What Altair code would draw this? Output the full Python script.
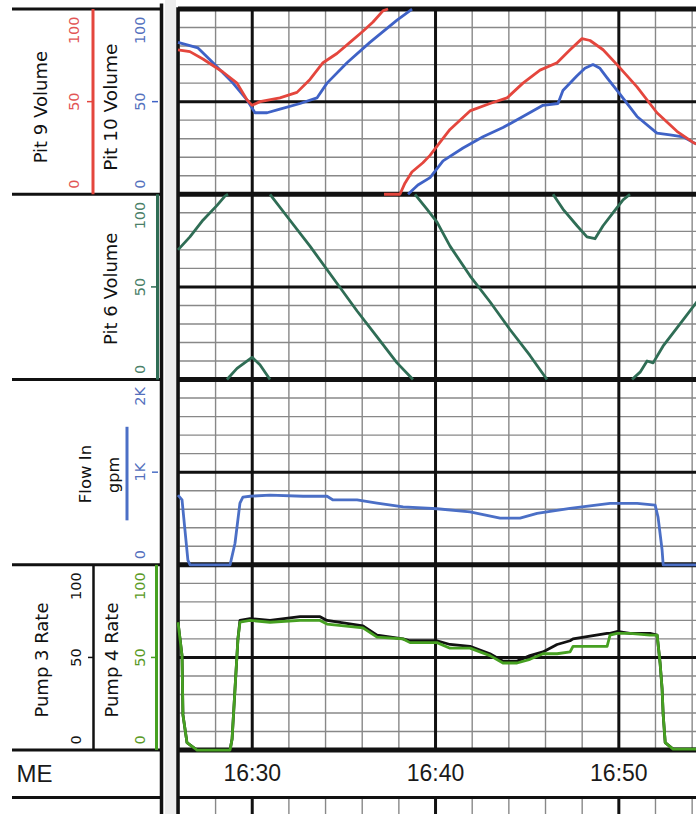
import altair as alt
import pandas as pd

# ---------------- values (time = minutes after 16:00) ----------------
# Panel 1: Pit 9 Volume (red) and Pit 10 Volume (blue), 0-100, two visible passes each
pit9_t1 = [25.95, 26.60, 27.31, 28.40, 29.17, 29.71, 29.99, 30.42, 31.51, 32.44, 33.15, 33.86, 34.62, 35.33, 36.04, 36.59, 37.13, 37.41]
pit9_v1 = [78, 77, 73, 66, 60, 51, 48, 50, 52, 55, 62, 71, 76, 82, 88, 93, 99, 100]
pit9_t2 = [37.19, 38.06, 38.33, 38.71, 39.31, 39.70, 40.24, 40.79, 41.88, 42.97, 43.90, 44.77, 45.70, 46.63, 47.34, 47.99, 48.43, 49.14, 49.90, 50.99, 52.08, 53.17, 54.05, 54.26]
pit9_v2 = [0, 0, 6, 12, 17, 21, 28, 35, 45, 49, 52, 60, 67, 71, 78, 84, 83, 78, 70, 58, 44, 34, 28, 27]
pit10_t1 = [25.95, 27.04, 27.86, 28.95, 29.71, 30.15, 30.81, 31.51, 32.61, 33.53, 34.08, 35.17, 36.42, 37.90, 38.72]
pit10_v1 = [82, 79, 71, 60, 51, 44, 44, 46, 49, 52, 60, 71, 82, 94, 100]
pit10_t2 = [38.50, 39.04, 39.70, 40.41, 41.50, 42.59, 43.68, 44.77, 45.86, 46.68, 46.95, 47.72, 48.15, 48.59, 48.97, 49.35, 50.06, 50.99, 52.08, 52.79, 53.50, 54.05, 54.26]
pit10_v2 = [0, 5, 9, 18, 25, 31, 36, 42, 48, 49, 56, 64, 68, 70, 68, 63, 54, 42, 33, 32, 31, 28, 27]

# Panel 2: Pit 6 Volume (wraps around 0-100)
pit6_t = [
    [25.95, 26.60, 27.31, 28.08, 28.51, 28.68],
    [28.62, 29.17, 29.99, 30.42, 30.97],
    [30.97, 31.90, 33.15, 34.62, 35.72, 36.81, 37.90, 38.77],
    [38.88, 39.53, 40.08, 40.79, 41.88, 42.97, 44.06, 45.15, 46.08],
    [46.41, 46.95, 47.72, 48.26, 48.70, 49.14, 49.68, 50.23, 50.61],
    [50.72, 51.16, 51.54, 51.87, 52.41, 53.34, 54.26],
]
pit6_v = [
    [70, 77, 86, 94, 99, 100],
    [0, 6, 12, 8, 0],
    [100, 88, 72, 52, 37, 23, 9, 0],
    [100, 92, 85, 72, 56, 42, 27, 13, 0],
    [100, 92, 83, 77, 76, 83, 90, 97, 100],
    [0, 4, 10, 9, 18, 30, 42],
]

# Panel 3: Flow In, gpm (0-2K)
flow_t = [25.95, 26.17, 26.33, 26.49, 26.60, 28.79, 29.06, 29.33, 29.49, 29.88, 30.97, 32.77, 34.08, 34.41,
          35.72, 36.81, 38.23, 40.08, 41.88, 43.52, 44.61, 45.54, 47.34, 49.52, 51.00, 51.98, 52.14, 52.36, 52.42, 54.26]
flow_v = [753, 700, 375, 50, 0, 0, 233, 667, 730, 740, 753, 740, 740, 700,
          700, 667, 625, 605, 572, 505, 505, 555, 610, 663, 663, 645, 515, 160, 0, 0]

# Panel 4: Pump 3 Rate (black) and Pump 4 Rate (green), 0-100
pump_t = [25.95, 26.17, 26.22, 26.44, 26.99, 28.79, 28.90, 29.06, 29.22, 29.33, 29.88, 30.97, 32.61, 33.70,
          34.08, 36.04, 36.81, 38.23, 38.61, 40.08, 40.79, 41.88, 42.97, 43.68, 44.45, 45.15, 45.86, 46.63,
          47.34, 47.50, 49.36, 49.52, 49.90, 50.61, 51.70, 52.09, 52.25, 52.36, 52.42, 52.53, 52.96, 54.26]
pump3_v = [69, 51, 19, 4, 0, 0, 6, 33, 60, 70, 71, 70, 72, 72,
           70, 67, 62, 60, 59, 59, 57, 56, 52, 48, 48, 51, 53, 57,
           59, 60, 63, 63, 64, 63, 63, 62, 47, 33, 19, 4, 0.5, 0.5]
pump4_v = [69, 51, 19, 4, 0, 0, 6, 33, 60, 69, 70, 69, 70, 70,
           68, 66, 61, 60, 58, 58, 55, 55, 51, 47, 47, 49, 52, 52,
           53, 56, 56, 62, 63, 63, 62, 62, 47, 33, 19, 4, 0.5, 0.5]

# tick labels
pct_ticks = [0, 50, 100]
pct_labels = ["0", "50", "100"]
flow_ticks = [0, 1000, 2000]
flow_labels = ["0", "1K", "2K"]
time_ticks = [30, 40, 50]
time_labels = ["16:30", "16:40", "16:50"]
minor_minutes = list(range(26, 55, 2))

# ---------------- layout ----------------
W, H = 518, 814
LEFT = 178
X0, X1 = 25.95, 54.21
U_TOP, U_BOT = 404.86, -34.5
U_TIME, U_ME, U_SEP = -12.65, -13.5, -25.6

RED, BLUE10, G6, FLOWB, G4, BLK = "#e4463d", "#3f62c6", "#2f6d55", "#4b6fc6", "#46a021", "#111111"
RED_T, BLUE_T, G6_T, G4_T = "#e25555", "#5470bd", "#4a8068", "#5a9a26"
THIN = "#888888"

XS = alt.Scale(domain=[X0, X1], nice=False, zero=False)
YS = alt.Scale(domain=[U_BOT, U_TOP], nice=False, zero=False)


def p(xabs):
    return xabs - LEFT


def X(f):
    return alt.X(f, scale=XS, axis=None)


def Y(f):
    return alt.Y(f, scale=YS, axis=None)


layers = []

# light gap between label column and plot
layers.append(alt.Chart(pd.DataFrame({"a": [0]})).mark_rect(color="#ededed").encode(
    x=alt.value(p(165)), x2=alt.value(p(176)), y=alt.value(0), y2=alt.value(H)))

# ---- grid ----
hthin = [pp * 100 + v for pp in range(4) for v in range(10, 100, 10) if v != 50]
hmid = [pp * 100 + 50 for pp in range(4)]
hbound = [0, 100, 200, 300, 400]


def hdf(us):
    return pd.DataFrame({"u": us, "x0": X0, "x1": X1})


vrows = []
for m in minor_minutes:
    for (a, b) in [(0, 400), (U_BOT, U_SEP)]:
        vrows.append({"t": m, "u0": a, "u1": b, "major": m in time_ticks})
vdf = pd.DataFrame(vrows)

layers.append(alt.Chart(hdf(hthin)).mark_rule(color=THIN, strokeWidth=1.4).encode(
    x=X("x0:Q"), x2="x1:Q", y=Y("u:Q")))
layers.append(alt.Chart(vdf[~vdf.major]).mark_rule(color=THIN, strokeWidth=1.4).encode(
    x=X("t:Q"), y=Y("u0:Q"), y2="u1:Q"))
layers.append(alt.Chart(hdf(hmid)).mark_rule(color=BLK, strokeWidth=3).encode(
    x=X("x0:Q"), x2="x1:Q", y=Y("u:Q")))
layers.append(alt.Chart(vdf[vdf.major]).mark_rule(color=BLK, strokeWidth=3).encode(
    x=X("t:Q"), y=Y("u0:Q"), y2="u1:Q"))
layers.append(alt.Chart(hdf(hbound)).mark_rule(color=BLK, strokeWidth=5).encode(
    x=X("x0:Q"), x2="x1:Q", y=Y("u:Q")))
layers.append(alt.Chart(hdf([U_SEP])).mark_rule(color=BLK, strokeWidth=3).encode(
    x=X("x0:Q"), x2="x1:Q", y=Y("u:Q")))
# left frame of the plot
layers.append(alt.Chart(pd.DataFrame({"t": [X0], "u0": [U_BOT], "u1": [401]})).mark_rule(
    color=BLK, strokeWidth=3.5).encode(x=X("t:Q"), y=Y("u0:Q"), y2="u1:Q"))


# ---- data lines ----
def seg_df(name, t, v, base, div=1.0):
    return pd.DataFrame({"t": t, "u": [base + x / div for x in v], "seg": name})


def line(df, color, width=2.8):
    return alt.Chart(df).mark_line(color=color, strokeWidth=width, strokeJoin="round").encode(
        x=X("t:Q"), y=Y("u:Q"), detail="seg:N")


pit9 = pd.concat([seg_df("a", pit9_t1, pit9_v1, 300), seg_df("b", pit9_t2, pit9_v2, 300)])
pit10 = pd.concat([seg_df("a", pit10_t1, pit10_v1, 300), seg_df("b", pit10_t2, pit10_v2, 300)])
pit6 = pd.concat([seg_df(f"s{i}", t, v, 200) for i, (t, v) in enumerate(zip(pit6_t, pit6_v))])
flow = seg_df("a", flow_t, flow_v, 100, 20.0)
pump3 = seg_df("a", pump_t, pump3_v, 0)
pump4 = seg_df("a", pump_t, pump4_v, 0)

layers += [line(pit10, BLUE10), line(pit9, RED), line(pit6, G6), line(flow, FLOWB),
           line(pump3, BLK), line(pump4, G4)]

# ---- label column: frame lines ----
hl = pd.DataFrame({"u": [400, 300, 200, 100, 0, U_SEP], "xa": p(12), "xb": p(163)})
layers.append(alt.Chart(hl).mark_rule(color=BLK, strokeWidth=3).encode(
    x=alt.X("xa:Q", scale=None, axis=None), x2="xb:Q", y=Y("u:Q")))

vl_rows = [
    (161.5, U_BOT, 403, BLK, 3.5),
    (93, 300, 400, RED, 3),
    (93.5, 0, 100, BLK, 2.5),
    (157.5, 200, 300, G6, 3),
    (156.5, 0, 100, G4, 3),
    (127, 124, 174.5, FLOWB, 3),
]
vl = pd.DataFrame([{"xp": p(x), "ua": a, "ub": b, "c": c, "w": w} for x, a, b, c, w in vl_rows])
layers.append(alt.Chart(vl).mark_rule().encode(
    x=alt.X("xp:Q", scale=None, axis=None), y=Y("ua:Q"), y2="ub:Q",
    color=alt.Color("c:N", scale=None), strokeWidth=alt.StrokeWidth("w:Q", scale=None)))

tk_rows = [(87, 93, 350, RED), (152, 158, 350, BLUE10), (151, 157, 250, G6),
           (152, 158, 150, FLOWB), (88, 94, 50, BLK), (151, 156, 50, G4)]
tk = pd.DataFrame([{"xa": p(a), "xb": p(b), "u": u, "c": c} for a, b, u, c in tk_rows])
layers.append(alt.Chart(tk).mark_rule(strokeWidth=1.5).encode(
    x=alt.X("xa:Q", scale=None, axis=None), x2="xb:Q", y=Y("u:Q"),
    color=alt.Color("c:N", scale=None)))

# ---- label column: tick labels ----
axes_spec = [
    (pct_ticks, pct_labels, 300, 1, 75, RED_T),
    (pct_ticks, pct_labels, 300, 1, 141, BLUE_T),
    (pct_ticks, pct_labels, 200, 1, 141, G6_T),
    (flow_ticks, flow_labels, 100, 20, 141, BLUE_T),
    (pct_ticks, pct_labels, 0, 1, 77, BLK),
    (pct_ticks, pct_labels, 0, 1, 141, G4_T),
]
tl_rows = []
for ticks, labels, base, div, xc, col in axes_spec:
    for v, lab in zip(ticks, labels):
        n = v / div
        if n == 0:
            u, al = base + n + 3, "left"
        elif n == 100:
            u, al = base + n - 4, "right"
        else:
            u, al = base + n, "center"
        tl_rows.append({"label": lab, "xp": p(xc), "u": u, "c": col, "al": al})
tl = pd.DataFrame(tl_rows)
for al in ["left", "center", "right"]:
    layers.append(alt.Chart(tl[tl.al == al]).mark_text(
        angle=270, align=al, baseline="middle", font="DejaVu Sans", fontSize=14.5).encode(
        x=alt.X("xp:Q", scale=None, axis=None), y=Y("u:Q"),
        text="label:N", color=alt.Color("c:N", scale=None)))

# ---- label column: titles ----
titles = pd.DataFrame([
    {"label": "Pit 9 Volume", "xp": p(42), "u": 347, "fs": 18},
    {"label": "Pit 10 Volume", "xp": p(111), "u": 347, "fs": 18.5},
    {"label": "Pit 6 Volume", "xp": p(112), "u": 249, "fs": 18},
    {"label": "Flow In", "xp": p(86), "u": 149, "fs": 16.5},
    {"label": "gpm", "xp": p(114), "u": 148.5, "fs": 16},
    {"label": "Pump 3 Rate", "xp": p(43), "u": 48.6, "fs": 18},
    {"label": "Pump 4 Rate", "xp": p(113), "u": 48.6, "fs": 18},
])
layers.append(alt.Chart(titles).mark_text(
    angle=270, align="center", baseline="middle", font="DejaVu Sans", color="#111").encode(
    x=alt.X("xp:Q", scale=None, axis=None), y=Y("u:Q"), text="label:N",
    size=alt.Size("fs:Q", scale=None)))

# ---- time row ----
tdf = pd.DataFrame({"t": time_ticks, "label": time_labels, "u": U_TIME})
layers.append(alt.Chart(tdf).mark_text(
    align="center", baseline="middle", font="Liberation Sans", fontSize=23, color="#1a1a1a").encode(
    x=X("t:Q"), y=Y("u:Q"), text="label:N"))
layers.append(alt.Chart(pd.DataFrame({"label": ["ME"], "u": [U_ME]})).mark_text(
    align="left", baseline="middle", font="Liberation Sans", fontSize=24, color="#1a1a1a").encode(
    x=alt.value(p(16.5)), y=Y("u:Q"), text="label:N"))

chart = alt.layer(*layers).properties(
    width=W, height=H,
    autosize=alt.AutoSizeParams(type="none"),
    padding={"left": LEFT, "top": 0, "right": 0, "bottom": 0},
    background="white",
).configure_view(stroke=None)

chart.save("out.html", embed_options={"renderer": "svg", "actions": False})
